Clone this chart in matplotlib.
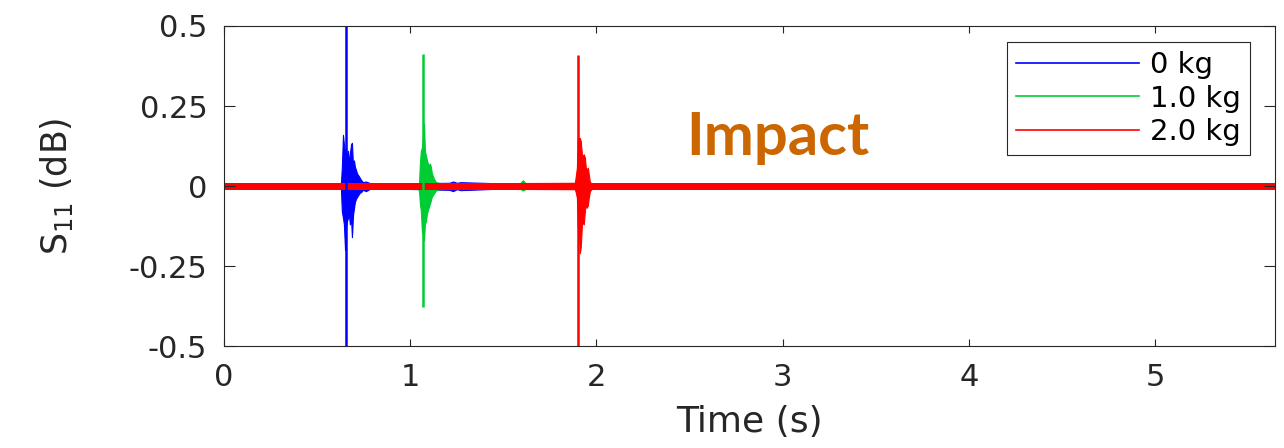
import matplotlib
matplotlib.use("Agg")
import matplotlib.pyplot as plt
from matplotlib.lines import Line2D

plt.rcParams['font.family'] = ['DejaVu Sans']
plt.rcParams['axes.unicode_minus'] = False

# ---------------- data ----------------
series_labels = ['0 kg', '1.0 kg', '2.0 kg']
series_colors = ['#0000FF', '#00CC33', '#FF0000']

# envelope of each recorded trace: time (s), upper and lower value (dB)
blue_t = [0.000, 0.300, 0.600, 0.628, 0.633, 0.639, 0.644, 0.650, 0.655, 0.660,
          0.666, 0.671, 0.676, 0.682, 0.687, 0.693, 0.698, 0.703, 0.709, 0.714,
          0.719, 0.725, 0.730, 0.735, 0.746, 0.762, 0.784, 0.900, 1.210, 1.230,
          1.250, 1.270, 1.500, 2.500, 3.500, 4.500, 5.644]
blue_hi = [0.008, 0.009, 0.008, 0.009, 0.060, 0.160, 0.130, 0.100, 0.120, 0.090,
           0.110, 0.070, 0.100, 0.130, 0.135, 0.060, 0.080, 0.060, 0.050, 0.040,
           0.035, 0.030, 0.025, 0.020, 0.012, 0.014, 0.009, 0.008, 0.010, 0.014,
           0.010, 0.012, 0.008, 0.009, 0.008, 0.009, 0.008]
blue_lo = [-0.008, -0.009, -0.008, -0.009, -0.080, -0.100, -0.120, -0.200, -0.130, -0.110,
           -0.100, -0.090, -0.120, -0.100, -0.160, -0.090, -0.070, -0.050, -0.040, -0.035,
           -0.030, -0.025, -0.020, -0.020, -0.012, -0.016, -0.009, -0.008, -0.012, -0.016,
           -0.010, -0.013, -0.008, -0.009, -0.008, -0.009, -0.008]

green_t = [0.000, 0.500, 1.000, 1.041, 1.047, 1.052, 1.057, 1.063, 1.068, 1.074,
           1.079, 1.084, 1.090, 1.095, 1.100, 1.106, 1.111, 1.116, 1.127, 1.138,
           1.159, 1.186, 1.400, 1.590, 1.605, 1.620, 2.000, 3.000, 4.000, 5.000, 5.644]
green_hi = [0.008, 0.009, 0.008, 0.009, 0.007, 0.070, 0.110, 0.120, 0.150, 0.195,
            0.110, 0.096, 0.080, 0.070, 0.065, 0.070, 0.060, 0.040, 0.023, 0.0125,
            0.009, 0.009, 0.008, 0.009, 0.018, 0.009, 0.008, 0.009, 0.008, 0.009, 0.008]
green_lo = [-0.008, -0.009, -0.008, -0.009, -0.014, -0.055, -0.076, -0.144, -0.150, -0.170,
            -0.118, -0.112, -0.086, -0.076, -0.066, -0.055, -0.045, -0.034, -0.024, -0.014,
            -0.009, -0.009, -0.008, -0.009, -0.014, -0.009, -0.008, -0.009, -0.008, -0.009, -0.008]

red_t = [0.000, 0.500, 1.000, 1.500, 1.884, 1.889, 1.895, 1.900, 1.906, 1.911,
         1.916, 1.922, 1.927, 1.932, 1.938, 1.943, 1.948, 1.954, 1.959, 1.965,
         1.975, 1.991, 2.500, 3.000, 3.500, 4.000, 4.500, 5.000, 5.644]
red_hi = [0.009, 0.009, 0.009, 0.009, 0.010, 0.030, 0.057, 0.150, 0.150, 0.150,
          0.140, 0.099, 0.094, 0.099, 0.089, 0.057, 0.052, 0.057, 0.036, 0.012,
          0.009, 0.009, 0.009, 0.009, 0.009, 0.009, 0.009, 0.009, 0.009]
red_lo = [-0.009, -0.009, -0.009, -0.009, -0.010, -0.020, -0.036, -0.130, -0.130, -0.210,
          -0.190, -0.120, -0.115, -0.120, -0.078, -0.057, -0.068, -0.060, -0.036, -0.016,
          -0.009, -0.009, -0.009, -0.009, -0.009, -0.009, -0.009, -0.009, -0.009]

# main impact spike of each trace
spike_t = [0.653, 1.067, 1.900]
spike_top = [0.50, 0.414, 0.41]
spike_bottom = [-0.50, -0.378, -0.50]

xticks = [0, 1, 2, 3, 4, 5]
xtick_labels = ['0', '1', '2', '3', '4', '5']
yticks = [-0.5, -0.25, 0, 0.25, 0.5]
ytick_labels = ['-0.5', '-0.25', '0', '0.25', '0.5']

annotation_text = 'Impact'

# ---------------- figure ----------------
W, H = 1284, 448
fig = plt.figure(figsize=(W / 100, H / 100), dpi=100)
ax = fig.add_axes([224 / W, (H - 346) / H, 1051 / W, 320 / H])

env = [(blue_t, blue_hi, blue_lo), (green_t, green_hi, green_lo), (red_t, red_hi, red_lo)]
for i, (t, hi, lo) in enumerate(env):
    c = series_colors[i]
    ax.fill_between(t, lo, hi, color=c, linewidth=0.8, edgecolor=c)
    ax.vlines(spike_t[i], spike_bottom[i], spike_top[i], color=c, linewidth=1.8)

ax.set_xlim(0, 5.644)
ax.set_ylim(-0.5, 0.5)
ax.set_xticks(xticks, labels=xtick_labels)
ax.set_yticks(yticks, labels=ytick_labels)

dark = '#262626'
ax.tick_params(axis='both', direction='in', top=True, right=True, width=0.8,
               colors=dark, labelsize=22)
ax.tick_params(axis='x', length=5, pad=12)
ax.tick_params(axis='y', length=8, pad=12)
for s in ax.spines.values():
    s.set_color(dark)
    s.set_linewidth(0.8)

ax.set_xlabel('Time (s)', fontsize=26, color=dark)
ax.xaxis.set_label_coords(0.5, -0.185)
ax.set_ylabel(r'S$_{11}$ (dB)', fontsize=25, color=dark)
ax.yaxis.set_label_coords(-0.142, 0.5)

ax.text(2.975, 0.096, annotation_text, fontfamily='Lato', fontweight='bold',
        fontsize=43, color='#CC6600', ha='center', va='baseline')

handles = [Line2D([], [], color=c, linewidth=1.2) for c in series_colors]
leg = ax.legend(handles, series_labels, loc='upper right',
                bbox_to_anchor=(1250 / W, 1 - 42 / H), bbox_transform=fig.transFigure,
                borderaxespad=0, fontsize=21, handlelength=4.2, handletextpad=0.4,
                labelspacing=0.2, borderpad=0.3, fancybox=False, framealpha=1)
leg.get_frame().set_edgecolor(dark)
leg.get_frame().set_linewidth(0.8)
for txt in leg.get_texts():
    txt.set_color('black')

fig.savefig('out.png', dpi=100, facecolor='white')
